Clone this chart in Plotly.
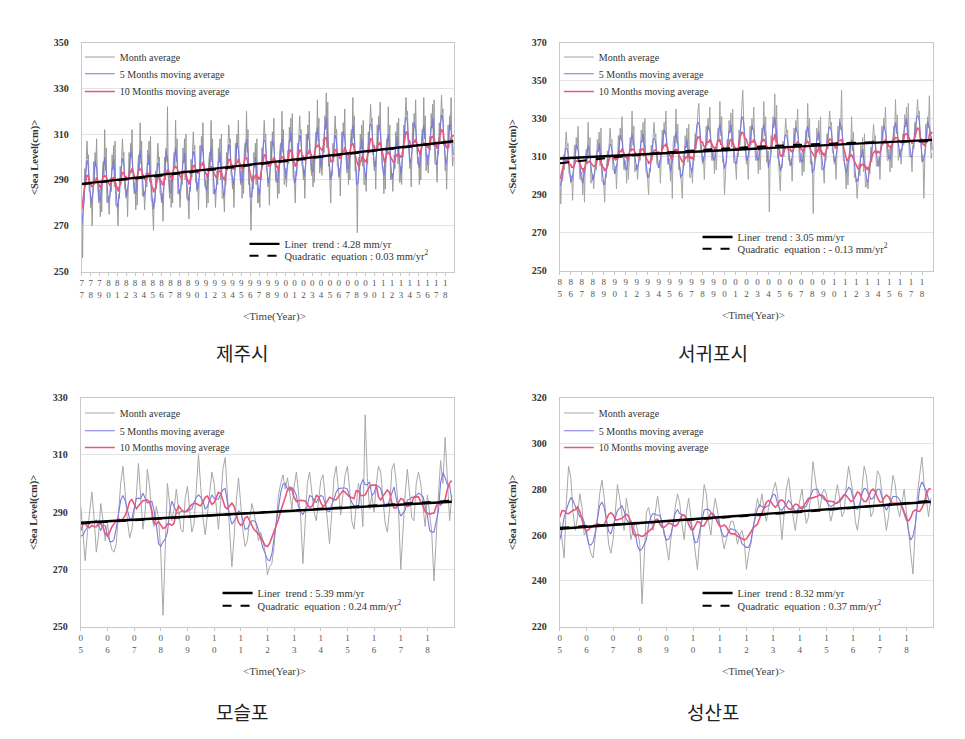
import pandas as pd
import plotly.graph_objects as go

# ---------------- DATA (cm) ----------------
jeju_start = 1977
jeju_month = [
    [272,256,283,281,295,287,299,307,299,301,285,285],
    [278,282,270,284,298,288,302,296,308,290,280,280],
    [286,274,288,276,294,298,292,312,294,304,280,282],
    [283,275,281,291,285,301,295,305,287,307,279,279],
    [278,270,284,282,296,288,300,308,300,302,286,286],
    [282,286,274,288,302,292,306,300,312,294,284,284],
    [289,277,291,279,297,301,295,315,297,307,283,285],
    [285,277,283,293,287,303,297,307,289,309,281,281],
    [276,268,282,280,294,286,298,306,298,300,284,284],
    [280,284,272,286,300,290,304,298,322,292,282,282],
    [290,278,292,280,298,302,296,316,298,308,284,286],
    [286,278,284,294,288,304,298,308,290,310,282,282],
    [281,273,287,285,299,291,303,311,303,305,289,289],
    [285,289,277,291,305,295,309,303,315,297,287,287],
    [290,278,292,280,298,302,296,316,298,308,284,286],
    [286,278,284,294,288,304,298,308,290,310,282,282],
    [284,276,290,288,302,294,306,314,306,308,292,292],
    [286,290,278,292,306,296,310,304,316,298,288,288],
    [294,282,296,284,302,306,300,320,302,312,288,290],
    [284,268,282,292,286,302,296,306,288,308,280,280],
    [286,278,292,290,304,296,308,316,308,310,294,294],
    [287,291,279,293,307,297,311,305,317,299,289,289],
    [294,282,296,284,302,306,300,320,302,312,288,290],
    [295,287,293,303,297,313,307,317,299,319,291,291],
    [288,280,294,292,306,298,310,318,310,312,296,296],
    [290,294,282,296,310,300,314,308,320,302,292,292],
    [299,287,301,289,307,311,305,325,307,317,293,295],
    [300,292,298,308,302,318,312,328,304,324,296,296],
    [288,280,294,292,306,298,310,318,310,312,296,296],
    [291,295,283,297,311,301,315,309,321,303,293,293],
    [300,288,302,290,308,312,306,326,308,318,294,296],
    [292,267,290,300,294,310,304,314,296,316,288,288],
    [293,285,299,297,311,303,315,323,315,317,301,301],
    [294,298,286,300,314,304,318,312,324,306,296,296],
    [296,284,298,286,304,308,302,322,304,314,290,292],
    [293,285,291,301,295,311,305,315,297,317,289,289],
    [296,288,302,300,314,306,318,326,318,320,304,304],
    [295,299,287,301,315,305,319,313,325,307,297,297],
    [300,288,302,290,308,312,306,326,308,318,294,296],
    [301,293,299,309,303,319,313,323,305,325,297,297],
    [297,289,303,301,315,307,319,327,319,321,305,305],
    [294,298,286,300,314,304,318,312,326,306,296,300],
]
jeju_linear = [288.3, 306.9]
jeju_quad = [288.1, 292.6, 297.3, 302.0, 306.8]

seogwipo_start = 1985
seogwipo_month = [
    [300,285,299,297,311,303,315,323,315,317,301,301],
    [296,300,287,302,316,306,320,314,326,308,298,298],
    [302,290,304,286,310,314,308,328,310,320,296,298],
    [301,293,299,309,303,319,313,323,305,325,297,297],
    [295,286,301,299,313,305,317,325,317,319,303,303],
    [301,305,293,307,321,311,325,319,331,313,303,303],
    [308,296,310,298,316,320,314,334,316,326,302,304],
    [306,298,304,314,308,324,318,328,310,330,302,302],
    [298,290,304,302,316,308,320,328,320,322,306,306],
    [304,308,296,310,324,314,328,322,334,316,306,306],
    [309,297,311,288,317,321,315,335,317,327,303,305],
    [303,295,288,311,305,321,315,325,307,327,299,299],
    [304,296,310,308,322,314,326,334,338,328,312,312],
    [306,310,298,312,326,316,330,324,336,318,308,308],
    [313,301,315,303,321,325,319,339,321,331,307,309],
    [290,303,309,319,313,329,323,333,315,335,307,307],
    [306,298,312,310,324,316,328,336,345,330,314,314],
    [306,310,298,312,326,316,330,324,336,318,308,308],
    [313,301,315,303,321,325,319,339,321,331,307,309],
    [313,281,311,321,315,331,325,343,317,337,309,309],
    [300,292,306,304,318,310,322,330,322,324,308,308],
    [305,309,297,311,325,315,329,323,335,317,307,307],
    [312,300,314,302,320,324,318,338,320,330,306,308],
    [307,280,305,315,309,325,319,329,311,331,303,303],
    [304,296,310,308,322,314,326,334,326,328,312,312],
    [306,310,298,312,326,316,330,324,345,318,308,308],
    [305,293,307,295,313,317,311,331,313,323,299,301],
    [298,288,296,306,300,316,310,320,302,322,294,294],
    [297,293,303,301,315,307,319,327,319,321,305,305],
    [306,310,298,312,326,316,330,324,336,318,308,308],
    [314,302,316,304,322,326,320,340,322,332,308,310],
    [314,306,312,322,316,332,326,336,318,338,310,310],
    [310,302,316,314,328,320,332,340,332,334,318,318],
    [307,311,288,313,327,317,331,325,342,319,309,312],
]
seogwipo_linear = [309.0, 318.8]
seogwipo_quad = [306.5, 311.6, 314.9, 317.0, 318.1]

moseulpo_start = 2005
moseulpo_month = [
    [292,280,273,283,290,297,288,276,282,293,287,280],
    [286,280,277,276,279,290,300,306,296,287,281,284],
    [290,296,307,297,284,290,305,299,288,285,292,288],
    [276,254,280,300,293,287,291,298,291,284,283,295],
    [299,291,283,286,297,310,299,288,282,290,296,304],
    [300,290,284,294,305,309,297,286,271,281,294,302],
    [292,283,278,280,287,293,290,285,280,283,280,276],
    [268,271,272,278,287,296,300,303,298,302,297,291],
    [299,304,297,288,272,289,300,304,296,290,287,293],
    [301,303,295,285,279,290,302,306,298,289,296,303],
    [306,298,287,284,292,300,296,285,324,302,291,296],
    [290,300,306,304,295,286,283,291,305,307,300,291],
    [270,286,296,305,296,288,287,300,304,300,292,285],
    [296,288,283,266,282,296,308,300,316,299,287,296],
]
moseulpo_linear = [286.3, 293.6]
moseulpo_quad = [286.0, 288.0, 290.0, 292.0, 294.0]

seongsanpo_start = 2005
seongsanpo_month = [
    [266,258,250,275,290,285,270,262,268,278,272,260],
    [262,256,252,250,258,268,278,284,276,266,256,252],
    [258,270,282,276,268,262,276,270,258,262,266,262],
    [256,230,252,270,272,266,262,270,277,270,264,262],
    [256,249,258,266,272,278,274,265,258,270,276,268],
    [260,252,245,258,270,282,278,266,260,270,276,270],
    [264,258,254,258,262,266,266,262,256,260,262,258],
    [245,252,256,262,270,276,272,278,270,266,272,276],
    [280,283,278,270,258,268,280,285,275,268,262,270],
    [275,280,272,265,268,278,292,284,276,270,278,280],
    [278,272,266,270,276,282,276,268,270,282,290,284],
    [278,266,262,270,280,290,286,276,268,270,278,288],
    [286,278,270,262,268,276,286,282,272,268,275,280],
    [270,262,252,243,262,278,286,294,282,276,268,276],
]
seongsanpo_linear = [262.7, 274.5]
seongsanpo_quad = [263.2, 265.6, 268.3, 271.3, 275.0]

station_names = ["제주시", "서귀포시", "모슬포", "성산포"]
y_ranges = [(250, 350), (250, 370), (250, 330), (220, 320)]
linear_labels = ["Liner  trend : 4.28 mm/yr", "Liner  trend : 3.05 mm/yr",
                 "Liner  trend : 5.39 mm/yr", "Liner  trend : 8.32 mm/yr"]
quad_labels = ["Quadratic  equation : 0.03 mm/yr<sup>2</sup>",
               "Quadratic  equation : - 0.13 mm/yr<sup>2</sup>",
               "Quadratic  equation : 0.24 mm/yr<sup>2</sup>",
               "Quadratic  equation : 0.37 mm/yr<sup>2</sup>"]
series_names = ["Month average", "5 Months moving average", "10 Months moving average"]

# ---------------- LAYOUT GEOMETRY (page pixels) ----------------
PAGE_W, PAGE_H = 965, 739
BODY = 8                       # default page margin around the figure
W, H = PAGE_W - 2 * BODY, PAGE_H - 2 * BODY
SERIF = "Liberation Serif, Times New Roman, serif"
boxes = [(80, 453, 37, 270), (559, 933, 37, 269), (79, 453, 398, 631), (559, 933, 398, 631)]
top_leg = [(92, [52, 69, 87]), (572, [52, 69, 87]), (92, [414, 432, 449]), (572, [414, 432, 449])]
bot_leg = [(257, [242, 254]), (711, [235, 247]), (230, [597, 610]), (711, [597, 610])]
captions = [(240, 352), (712, 352), (240, 717), (712, 717)]
LEG_DX, LEG_DY = -14, -15

def px(x):
    return (x - BODY) / W

def py(y):
    return 1 - (y - BODY) / H

fig = go.Figure()
stations = [
    (jeju_start, jeju_month, jeju_linear, jeju_quad, "#9a9a9a"),
    (seogwipo_start, seogwipo_month, seogwipo_linear, seogwipo_quad, "#a4a4a4"),
    (moseulpo_start, moseulpo_month, moseulpo_linear, moseulpo_quad, "#a8a8a8"),
    (seongsanpo_start, seongsanpo_month, seongsanpo_linear, seongsanpo_quad, "#a8a8a8"),
]

legend_layouts = {}
leg_counter = [0]

def new_legend(x_px, y_px, size=10):
    leg_counter[0] += 1
    name = "legend" if leg_counter[0] == 1 else f"legend{leg_counter[0]}"
    legend_layouts[name] = dict(
        x=px(x_px + LEG_DX), y=py(y_px + LEG_DY), xanchor="left", yanchor="top",
        bgcolor="rgba(0,0,0,0)", borderwidth=0, itemwidth=30,
        font=dict(family=SERIF, size=size, color="#333333"),
    )
    return name

annotations = []
for i, (start, rows, lin, quad, gcol) in enumerate(stations):
    vals = [v for r in rows for v in r]
    dates = pd.date_range(f"{start}-01-01", periods=len(vals), freq="MS")
    s = pd.Series(vals, index=dates)
    ma5 = s.rolling(5, center=True, min_periods=1).mean()
    ma10 = s.rolling(10, center=True, min_periods=1).mean()
    end_year = start + len(rows)
    xa = "x" if i == 0 else f"x{i+1}"
    ya = "y" if i == 0 else f"y{i+1}"

    lx, lys = top_leg[i]
    styles = [dict(color=gcol, width=1), dict(color="#7a7ade", width=1.1), dict(color="#e8587a", width=1.6)]
    for k, (ser, st) in enumerate(zip([s, ma5, ma10], styles)):
        fig.add_trace(go.Scatter(x=ser.index, y=ser.values, mode="lines", name=series_names[k],
                                 line=st, xaxis=xa, yaxis=ya, legend=new_legend(lx, lys[k])))
    bx, bys = bot_leg[i]
    fig.add_trace(go.Scatter(x=[dates[0], dates[-1]], y=lin, mode="lines", name=linear_labels[i],
                             line=dict(color="black", width=2.4), xaxis=xa, yaxis=ya,
                             legend=new_legend(bx, bys[0], 10.5)))
    qd = pd.date_range(dates[0], dates[-1], periods=len(quad))
    fig.add_trace(go.Scatter(x=qd, y=quad, mode="lines", name=quad_labels[i],
                             line=dict(color="black", width=2, dash="dash", shape="spline"),
                             xaxis=xa, yaxis=ya, legend=new_legend(bx, bys[1], 10.5)))

    l, r, t, b = boxes[i]
    years = list(range(start, end_year))
    tickvals = [pd.Timestamp(f"{y}-01-01") for y in years]
    ticktext = [f"{str(y)[2]}<br>{str(y)[3]}" for y in years]
    fig.layout[("xaxis" if i == 0 else f"xaxis{i+1}")] = dict(
        domain=[px(l), px(r)], anchor=ya, type="date",
        range=[f"{start}-01-01", f"{end_year}-01-01"],
        tickmode="array", tickvals=tickvals, ticktext=ticktext,
        tickfont=dict(family=SERIF, size=9, color="#555555"),
        ticks="outside", ticklen=3, tickcolor="#c8c8c8",
        showgrid=False, showline=True, linecolor="#c8c8c8", mirror=True, zeroline=False,
    )
    y0, y1 = y_ranges[i]
    fig.layout[("yaxis" if i == 0 else f"yaxis{i+1}")] = dict(
        domain=[py(b), py(t)], anchor=xa, range=[y0, y1], dtick=20, tick0=y0,
        tickfont=dict(family=SERIF, size=10, color="#333333", weight="bold"),
        showgrid=True, gridcolor="#e4e4e4", gridwidth=1, ticklabelstandoff=10,
        showline=True, linecolor="#c8c8c8", mirror=True, zeroline=False, ticks="",
    )
    annotations.append(dict(text="&lt;Sea Level(cm)&gt;", x=px(l - 47), y=py((t + b) / 2),
                            xref="paper", yref="paper", showarrow=False, textangle=-90,
                            xanchor="center", yanchor="middle",
                            font=dict(family=SERIF, size=10.5, color="#333333", weight="bold")))
    annotations.append(dict(text="&lt;Time(Year)&gt;", x=px((l + r) / 2 + 7), y=py(b + 46),
                            xref="paper", yref="paper", showarrow=False,
                            xanchor="center", yanchor="middle",
                            font=dict(family=SERIF, size=11, color="#444444")))
    cx, cy = captions[i]
    annotations.append(dict(text=station_names[i], x=px(cx), y=py(cy), xref="paper", yref="paper",
                            showarrow=False, xanchor="center", yanchor="middle",
                            font=dict(family="Noto Sans CJK KR", size=19, color="#222222")))

fig.update_layout(
    width=W, height=H, margin=dict(l=0, r=0, t=0, b=0),
    paper_bgcolor="white", plot_bgcolor="white",
    annotations=annotations, showlegend=True,
)
fig.update_layout(**legend_layouts)
fig.write_html("out.html")
